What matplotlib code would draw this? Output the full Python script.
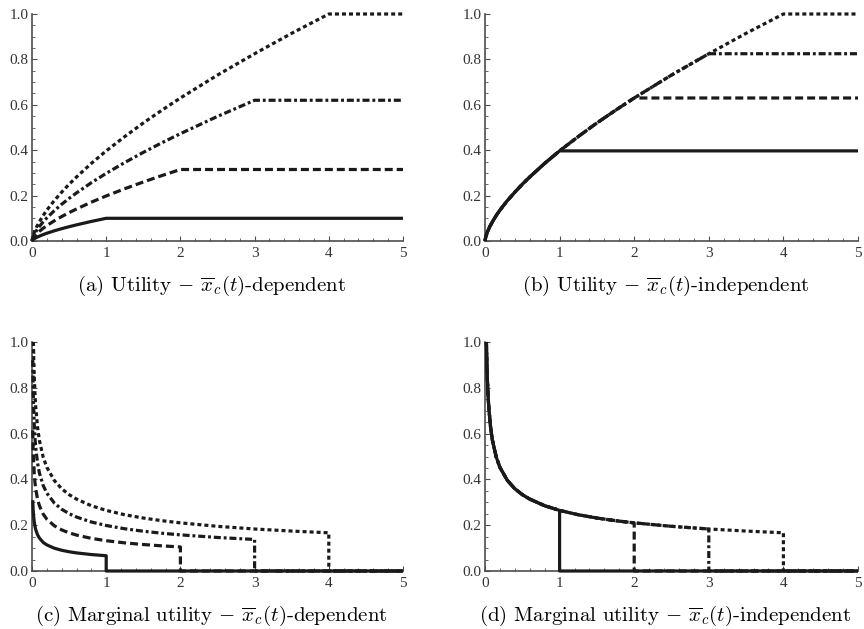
#!/usr/bin/env python3
import matplotlib
matplotlib.use("Agg")
import matplotlib.pyplot as plt
from matplotlib.ticker import MultipleLocator, FormatStrFormatter

plt.rcParams['mathtext.fontset'] = 'cm'

# ---- (a) utility, x_c(t)-dependent ----
t_util = [0, 0.01, 0.03, 0.06, 0.1, 0.15, 0.2, 0.3, 0.4, 0.5, 0.6, 0.8, 1.0,
          1.25, 1.5, 1.75, 2.0, 2.5, 3.0, 3.5, 4.0, 5.0]
ua_solid = [0, .0046, .0097, .0153, .0215, .0282, .0342, .0448, .0543, .063, .0711, .0862, .100,
            .100, .100, .100, .100, .100, .100, .100, .100, .100]
ua_dashed = [0, .0092, .0192, .0304, .0428, .056, .0679, .0889, .1078, .125, .1411, .1711, .1985,
             .2303, .26, .2882, .315, .315, .315, .315, .315, .315]
ua_dashdot = [0, .0138, .0288, .0457, .0642, .0841, .1019, .1335, .1618, .1877, .2119, .2569, .298,
              .3457, .3904, .4327, .4729, .5489, .62, .62, .62, .62]
ua_dotted = [0, .018, .038, .061, .085, .112, .136, .178, .215, .25, .282, .342, .397,
             .46, .52, .576, .63, .731, .825, .915, 1.0, 1.0]

# ---- (b) utility, x_c(t)-independent ----
ub_solid = [0, .018, .038, .061, .085, .112, .136, .178, .215, .25, .282, .342, .397,
            .397, .397, .397, .397, .397, .397, .397, .397, .397]
ub_dashed = [0, .018, .038, .061, .085, .112, .136, .178, .215, .25, .282, .342, .397,
             .46, .52, .576, .63, .63, .63, .63, .63, .63]
ub_dashdot = [0, .018, .038, .061, .085, .112, .136, .178, .215, .25, .282, .342, .397,
              .46, .52, .576, .63, .731, .825, .825, .825, .825]
ub_dotted = [0, .018, .038, .061, .085, .112, .136, .178, .215, .25, .282, .342, .397,
             .46, .52, .576, .63, .731, .825, .915, 1.0, 1.0]

# ---- (c) marginal utility, x_c(t)-dependent ----
mc_solid_t = [0.01, 0.015, 0.02, 0.03, 0.04, 0.05, 0.075, 0.1, 0.15, 0.2, 0.3, 0.4, 0.5, 0.6,
              0.8, 1.0, 1.0, 5.0]
mc_solid = [.309, .270, .245, .215, .195, .181, .158, .144, .125, .114, .0996, .0905, .084, .079,
            .0718, .0667, 0, 0]
mc_dashed_t = [0.01, 0.015, 0.02, 0.03, 0.04, 0.05, 0.075, 0.1, 0.15, 0.2, 0.3, 0.4, 0.5, 0.6,
               0.8, 1.0, 1.25, 1.5, 1.75, 2.0, 2.0, 5.0]
mc_dashed = [.614, .536, .487, .426, .387, .3585, .3135, .285, .249, .226, .1977, .1795, .1667, .1569,
             .1425, .1323, .1228, .1156, .1098, .105, 0, 0]
mc_dashdot_t = [0.01, 0.015, 0.02, 0.03, 0.04, 0.05, 0.075, 0.1, 0.15, 0.2, 0.3, 0.4, 0.5, 0.6,
                0.8, 1.0, 1.25, 1.5, 1.75, 2.0, 2.5, 3.0, 3.0, 5.0]
mc_dashdot = [.922, .806, .731, .64, .581, .5385, .471, .428, .374, .34, .297, .2696, .2504, .2357,
              .214, .1987, .1844, .1737, .1649, .1578, .1464, .1377, 0, 0]
mc_dotted_t = [0.0186, 0.025, 0.03, 0.04, 0.05, 0.075, 0.1, 0.15, 0.2, 0.3, 0.4, 0.5, 0.6,
               0.8, 1.0, 1.25, 1.5, 1.75, 2.0, 2.5, 3.0, 3.5, 4.0, 4.0, 5.0]
mc_dotted = [1.0, .905, .852, .774, .717, .627, .570, .498, .4526, .3955, .3592, .3335, .314,
             .285, .2647, .2456, .2313, .2197, .2102, .1951, .1834, .1744, .1668, 0, 0]

# ---- (d) marginal utility, x_c(t)-independent ----
md_solid_t = [0.0186, 0.025, 0.03, 0.04, 0.05, 0.075, 0.1, 0.15, 0.2, 0.3, 0.4, 0.5, 0.6,
              0.8, 1.0, 1.0, 5.0]
md_solid = [1.0, .905, .852, .774, .717, .627, .570, .498, .4526, .3955, .3592, .3335, .314,
            .285, .2647, 0, 0]
md_dashed_t = [0.0186, 0.025, 0.03, 0.04, 0.05, 0.075, 0.1, 0.15, 0.2, 0.3, 0.4, 0.5, 0.6,
               0.8, 1.0, 1.25, 1.5, 1.75, 2.0, 2.0, 5.0]
md_dashed = [1.0, .905, .852, .774, .717, .627, .570, .498, .4526, .3955, .3592, .3335, .314,
             .285, .2647, .2456, .2313, .2197, .2102, 0, 0]
md_dashdot_t = [0.0186, 0.025, 0.03, 0.04, 0.05, 0.075, 0.1, 0.15, 0.2, 0.3, 0.4, 0.5, 0.6,
                0.8, 1.0, 1.25, 1.5, 1.75, 2.0, 2.5, 3.0, 3.0, 5.0]
md_dashdot = [1.0, .905, .852, .774, .717, .627, .570, .498, .4526, .3955, .3592, .3335, .314,
              .285, .2647, .2456, .2313, .2197, .2102, .1951, .1834, 0, 0]
md_dotted_t = mc_dotted_t
md_dotted = mc_dotted

captions = [r"(a) Utility $-$ $\overline{x}_c(t)$-dependent",
            r"(b) Utility $-$ $\overline{x}_c(t)$-independent",
            r"(c) Marginal utility $-$ $\overline{x}_c(t)$-dependent",
            r"(d) Marginal utility $-$ $\overline{x}_c(t)$-independent"]

LW = 2.3
# solid, dashed, dash-dot, dotted
styles = [(0, ()), (0, (2.5, 1.25)), (0, (2.2, 0.9, 0.9, 0.9)), (0, (1.25, 0.95))]

W, H = 864, 629
fig = plt.figure(figsize=(W / 100, H / 100), dpi=100)
boxes = [(32, 14, 403, 241), (485, 14, 858, 241),
         (32, 342, 403, 571), (485, 342, 858, 571)]
axes = []
for (x0, y0, x1, y1) in boxes:
    ax = fig.add_axes([x0 / W, 1 - y1 / H, (x1 - x0) / W, (y1 - y0) / H])
    axes.append(ax)

panels = [
    [(t_util, ua_solid), (t_util, ua_dashed), (t_util, ua_dashdot), (t_util, ua_dotted)],
    [(t_util, ub_solid), (t_util, ub_dashed), (t_util, ub_dashdot), (t_util, ub_dotted)],
    [(mc_solid_t, mc_solid), (mc_dashed_t, mc_dashed), (mc_dashdot_t, mc_dashdot), (mc_dotted_t, mc_dotted)],
    [(md_solid_t, md_solid), (md_dashed_t, md_dashed), (md_dashdot_t, md_dashdot), (md_dotted_t, md_dotted)],
]

for ax, curves, cap, box in zip(axes, panels, captions, boxes):
    for (x, y), ls in zip(curves, styles):
        ax.plot(x, y, color='#1a1a1a', lw=LW, linestyle=ls, clip_on=False,
                solid_joinstyle='miter', dash_capstyle='butt', zorder=3)
    ax.set_xlim(0, 5)
    ax.set_ylim(0, 1)
    for s in ['top', 'right']:
        ax.spines[s].set_visible(False)
    for s in ['left', 'bottom']:
        ax.spines[s].set_color('#4d4d4d')
        ax.spines[s].set_linewidth(1.2)
    ax.xaxis.set_major_locator(MultipleLocator(1))
    ax.xaxis.set_minor_locator(MultipleLocator(0.2))
    ax.yaxis.set_major_locator(MultipleLocator(0.2))
    ax.yaxis.set_minor_locator(MultipleLocator(0.05))
    ax.yaxis.set_major_formatter(FormatStrFormatter('%.1f'))
    ax.tick_params(which='major', direction='in', length=3.6, width=0.8, color='#4d4d4d',
                   labelsize=11, labelcolor='#333333')
    ax.tick_params(which='minor', direction='in', length=2.0, width=0.6, color='#4d4d4d')
    ax.tick_params(axis='x', which='major', pad=4)
    ax.tick_params(axis='y', which='major', pad=2.5)
    for lab in ax.get_xticklabels() + ax.get_yticklabels():
        lab.set_fontfamily('Liberation Serif')
    cx = (box[0] + box[2]) / 2 - 6
    cy = box[3] + 45
    fig.text(cx / W, 1 - cy / H, cap, ha='center', va='center',
             fontsize=15, family=['cmr10', 'DejaVu Serif'])

fig.savefig('out.png', dpi=100)
